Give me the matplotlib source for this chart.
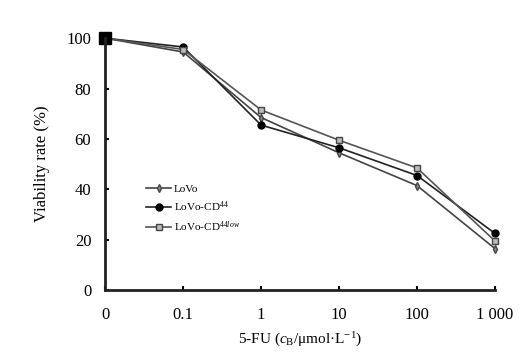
import matplotlib.pyplot as plt

plt.rcParams['font.family'] = 'Liberation Serif'
plt.rcParams['mathtext.fontset'] = 'custom'
plt.rcParams['mathtext.rm'] = 'Liberation Serif'
plt.rcParams['mathtext.it'] = 'Liberation Serif:italic'

# data
doses = ['0', '0.1', '1', '10', '100', '1 000']
lovo = [100, 94.5, 68.5, 54.5, 41.5, 16.5]
lovo_cd = [100, 96.5, 65.5, 56.5, 45.5, 22.5]
lovo_cd_low = [100, 95.5, 71.5, 59.5, 48.5, 19.5]
xpos = list(range(len(doses)))

fig = plt.figure(figsize=(5.26, 3.6), dpi=100)
ax = fig.add_axes([0.2, 0.194, 0.741, 0.7])

ax.plot(xpos, lovo, color='#444444', lw=1.2, marker='d', ms=4,
        mfc='#888888', mec='#444444', label='LoVo', clip_on=False)
ax.plot(xpos, lovo_cd, color='#222222', lw=1.2, marker='o', ms=5,
        mfc='black', mec='black', label='LoVo-CD$^{44}$', clip_on=False)
ax.plot(xpos, lovo_cd_low, color='#555555', lw=1.2, marker='s', ms=5,
        mfc='#bbbbbb', mec='#444444', label='LoVo-CD$^{44low}$', clip_on=False)
ax.plot([0], [100], marker='s', ms=8, color='black', clip_on=False)

ax.set_xlim(0, 5)
ax.set_ylim(0, 100)
ax.set_xticks(xpos)
ax.set_xticklabels(doses)
ax.set_yticks([0, 20, 40, 60, 80, 100])
ax.tick_params(direction='in', length=3, width=1.5, labelsize=12)
ax.tick_params(axis='x', pad=12)
ax.tick_params(axis='y', pad=10)
for s in ['top', 'right']:
    ax.spines[s].set_visible(False)
for s in ['left', 'bottom']:
    ax.spines[s].set_linewidth(2)
    ax.spines[s].set_color('#222222')

ax.set_xlabel('5-FU ($c_\\mathrm{B}$/μmol·L$^{-1}$)', fontsize=11, labelpad=6)
ax.set_ylabel('Viability rate (%)', fontsize=12, labelpad=12)

ax.legend(loc='upper left', bbox_to_anchor=(0.08, 0.46), frameon=False,
          fontsize=8, handlelength=2.2, handletextpad=0.3, labelspacing=0.5)

fig.savefig('out.png', dpi=100)
